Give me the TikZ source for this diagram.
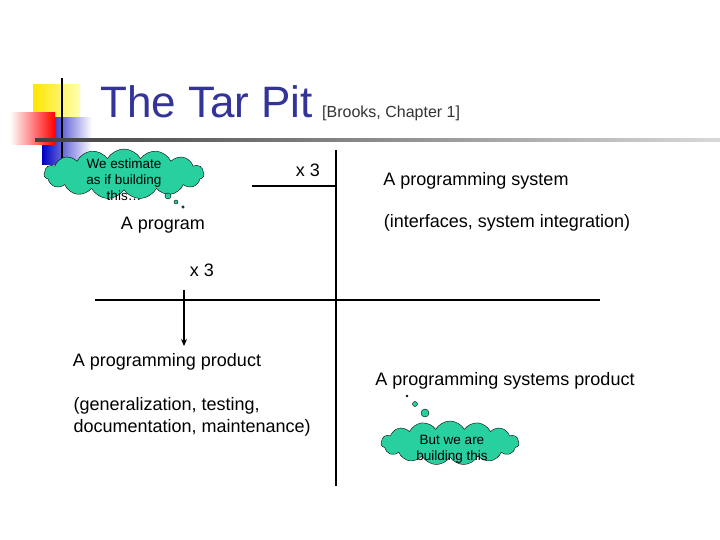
\documentclass[tikz,border=0pt]{standalone}
\usepackage{fontspec}
\setmainfont{Liberation Sans}
\usetikzlibrary{shapes.symbols,arrows.meta}
\definecolor{navy}{RGB}{51,51,153}
\definecolor{teal}{RGB}{40,208,160}
\begin{document}
\begin{tikzpicture}[x=1pt,y=-1pt,
  lbl/.style={font=\fontsize{18}{22}\selectfont},
  thought/.style={cloud,cloud puffs=15,cloud puff arc=120,aspect=3.3,fill=teal,draw=black,thin,inner sep=0pt},
  ctext/.style={align=center,inner sep=0pt,font=\fontsize{13.5}{16}\selectfont},
  bub/.style={circle,fill=teal,draw=black,thin,inner sep=0pt},
  axis/.style={line width=2pt}]
\useasboundingbox[fill=white] (0,0) rectangle (720,540);
% decoration
\fill[left color=yellow!80!orange,right color=yellow!30] (33,85) rectangle (80,130);
\fill[left color=blue!75!black,right color=white] (42,118) rectangle (92,165);
\fill[left color=white,right color=red] (10,113) rectangle (55,145);
\draw[line width=1.5pt] (62,78) -- (62,160);
\shade[left color=black!75,right color=black!15] (35,139) rectangle (720,142);
\node[anchor=base west,text=navy,font=\fontsize{44}{48}\selectfont,inner sep=0] (title) at (100,118) {The Tar Pit};
\node[anchor=base west,font=\fontsize{16}{18}\selectfont,text=black!80,inner sep=0] (ref) at (322,118) {[Brooks, Chapter 1]};
% axes
\coordinate (vt) at (336,150); \coordinate (vb) at (336,486);
\coordinate (hl) at (95,300); \coordinate (hr) at (600,300);
\draw[axis] (vt) -- (vb);
\draw[axis] (hl) -- (hr);
\coordinate (a1) at (336,186); \coordinate (a2) at (252,186);
\draw[line width=1.5pt] (a1) -- (a2);
\coordinate (b1) at (184,290); \coordinate (b2) at (184,346);
\draw[line width=1.5pt,-{Stealth[length=7pt,width=6pt]}] (b1) -- (b2);
\node[lbl] (x3a) at (308,170) {x 3};
\node[lbl] (x3b) at (202,270) {x 3};
% labels
\node[lbl] (prog) at (163,225) {A program};
\node[lbl] (sys) at (476,181) {A programming system};
\node[lbl] (sysi) at (507,223) {(interfaces, system integration)};
\node[lbl] (prod) at (167,362) {A programming product};
\node[lbl,anchor=west,align=left] (prodi) at (70,417) {(generalization, testing,\\documentation, maintenance)};
\node[lbl] (sp) at (505,381) {A programming systems product};
% clouds
\node[thought,minimum width=160pt,minimum height=50pt] (c1) at (124,174) {};
\node[ctext] (t1) at (124,180) {We estimate\\as if building\\this\dots};
\node[bub,minimum size=6pt] (p1) at (168,196) {};
\node[bub,minimum size=4pt] (p2) at (176,202) {};
\node[bub,minimum size=2.5pt] (p3) at (183,207) {};
\node[thought,minimum width=138pt,minimum height=44pt] (c2) at (450,443) {};
\node[ctext] (t2) at (452,449) {But we are\\building this};
\node[bub,minimum size=2pt] (q1) at (407,396) {};
\node[bub,minimum size=5pt] (q2) at (415,404) {};
\node[bub,minimum size=8pt] (q3) at (425,413) {};
\end{tikzpicture}
\end{document}
